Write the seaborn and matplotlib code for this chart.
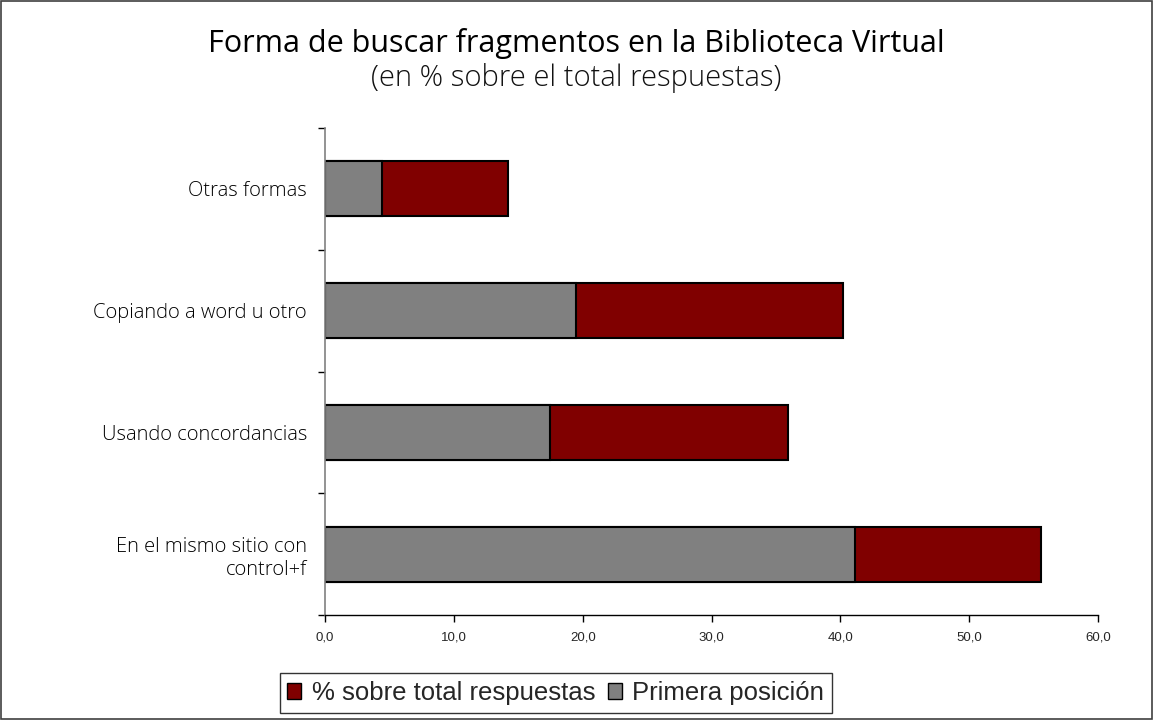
import numpy as np
import pandas as pd
import matplotlib
matplotlib.use("Agg")
import matplotlib.pyplot as plt
import seaborn as sns
from matplotlib.patches import Patch, Rectangle
from matplotlib.ticker import FixedLocator, FuncFormatter

# %%
categorias = ["Otras formas", "Copiando a word u otro", "Usando concordancias",
              "En el mismo sitio con\ncontrol+f"]
primera_posicion = [4.4, 19.5, 17.5, 41.1]
sobre_total = [9.8, 20.7, 18.4, 14.5]
x_ticks = [0, 10, 20, 30, 40, 50, 60]

COR_CINZA = "#808080"
COR_VERMELHO = "#800000"

df = pd.DataFrame({
    "categoria": categorias,
    "primera": primera_posicion,
    "total": np.array(primera_posicion) + np.array(sobre_total),
})

# %%
sns.set_theme(style="white")
plt.rcParams["font.family"] = ["Open Sans", "DejaVu Sans"]

fig = plt.figure(figsize=(11.53, 7.2), dpi=100)
ax = fig.add_axes([0.2819, 0.1458, 0.6704, 0.6764])

# barra total (vermelho) por baixo, primeira posição (cinza) por cima
sns.barplot(data=df, x="total", y="categoria", order=categorias, color=COR_VERMELHO,
            saturation=1, width=0.45, edgecolor="black", linewidth=1.5, ax=ax)
sns.barplot(data=df, x="primera", y="categoria", order=categorias, color=COR_CINZA,
            saturation=1, width=0.45, edgecolor="black", linewidth=1.5, ax=ax)

ax.set_xlim(0, 60)
ax.set_ylim(3.5, -0.5)
ax.set_xlabel("")
ax.set_ylabel("")

ax.xaxis.set_major_locator(FixedLocator(x_ticks))
ax.xaxis.set_major_formatter(FuncFormatter(lambda v, p: f"{v:.1f}".replace(".", ",")))
for lbl in ax.get_xticklabels():
    lbl.set_fontfamily("Liberation Sans")
    lbl.set_fontsize(9.5)
ax.tick_params(axis="x", bottom=True, direction="out", length=5, width=1,
               color="black", pad=7)

ax.set_yticks(range(len(categorias)))
ax.set_yticklabels(categorias, fontsize=14.5, color="black", fontweight="light")
ax.yaxis.set_minor_locator(FixedLocator([-0.5, 0.5, 1.5, 2.5, 3.5]))
ax.tick_params(axis="y", which="major", left=False, length=0, pad=13)
ax.tick_params(axis="y", which="minor", left=True, direction="out", length=5,
               width=1, color="black")

sns.despine(ax=ax, top=True, right=True)
ax.spines["left"].set_color(COR_CINZA)
ax.spines["left"].set_linewidth(1.2)
ax.spines["bottom"].set_color("black")
ax.spines["bottom"].set_linewidth(1)

fig.text(0.5, 0.939, "Forma de buscar fragmentos en la Biblioteca Virtual",
         ha="center", va="center", fontsize=22, color="black")
fig.text(0.5, 0.892, "(en % sobre el total respuestas)",
         ha="center", va="center", fontsize=21, color="#111111", fontweight="light")

handles = [
    Patch(facecolor=COR_VERMELHO, edgecolor="black", linewidth=1, label="% sobre total respuestas"),
    Patch(facecolor=COR_CINZA, edgecolor="black", linewidth=1, label="Primera posición"),
]
leg = fig.legend(handles=handles, loc="center", bbox_to_anchor=(0.482, 0.0375), ncol=2,
                 frameon=True, fancybox=False, edgecolor="black", handlelength=0.55,
                 handleheight=0.55, handletextpad=0.4, columnspacing=0.5,
                 borderpad=0.3, borderaxespad=0,
                 prop={"family": "Liberation Sans", "size": 18.5})
leg.get_frame().set_linewidth(1)

fig.patches.append(Rectangle((0.001, 0.001), 0.998, 0.997, transform=fig.transFigure,
                             fill=False, edgecolor="#404040", linewidth=1.2))

fig.savefig("out.png", dpi=100, facecolor="white")
